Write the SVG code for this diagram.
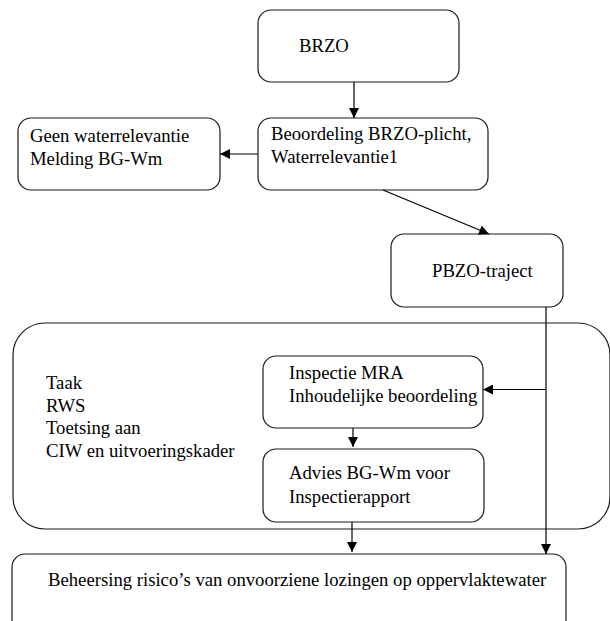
<svg xmlns="http://www.w3.org/2000/svg" width="610" height="621" viewBox="0 0 610 621">
  <style>
    .box { fill: #ffffff; stroke: #1a1a1a; stroke-width: 1.2; }
    .lbl { font-family: 'Liberation Serif', 'Times New Roman', Tinos, 'DejaVu Serif', serif; font-size: 18.7px; fill: #000000; }
    .edge { fill: none; stroke: #000000; stroke-width: 1.2; }
  </style>
  <defs>
    <marker id="arrow" viewBox="0 0 10 10" refX="10" refY="5" markerWidth="10" markerHeight="10" markerUnits="userSpaceOnUse" orient="auto">
      <path d="M0,0 L10,5 L0,10 Z" fill="#000000"/>
    </marker>
  </defs>
  <rect width="610" height="621" fill="#ffffff"/>

  <!-- container for the RWS task -->
  <g id="rws-taak">
    <rect class="box" x="13" y="323" width="597" height="206" rx="32" ry="32"/>
    <text class="lbl" x="46" y="389">Taak</text>
    <text class="lbl" x="46" y="411.5">RWS</text>
    <text class="lbl" x="46" y="434">Toetsing aan</text>
    <text class="lbl" x="46" y="456.5">CIW en uitvoeringskader</text>
  </g>

  <g id="brzo">
    <rect class="box" x="258" y="10" width="201" height="72" rx="13" ry="13"/>
    <text class="lbl" x="299" y="52">BRZO</text>
  </g>

  <g id="beoordeling">
    <rect class="box" x="258" y="118" width="230" height="72" rx="13" ry="13"/>
    <text class="lbl" x="271" y="140">Beoordeling BRZO-plicht,</text>
    <text class="lbl" x="271" y="163">Waterrelevantie1</text>
  </g>

  <g id="geen-waterrelevantie">
    <rect class="box" x="18" y="118" width="202" height="72" rx="13" ry="13"/>
    <text class="lbl" x="30" y="142">Geen waterrelevantie</text>
    <text class="lbl" x="30" y="165">Melding BG-Wm</text>
  </g>

  <g id="pbzo">
    <rect class="box" x="391" y="234" width="172" height="73" rx="13" ry="13"/>
    <text class="lbl" x="432" y="277">PBZO-traject</text>
  </g>

  <g id="inspectie">
    <rect class="box" x="263" y="356" width="220" height="72" rx="13" ry="13"/>
    <text class="lbl" x="289" y="379">Inspectie MRA</text>
    <text class="lbl" x="289" y="402">Inhoudelijke beoordeling</text>
  </g>

  <g id="advies">
    <rect class="box" x="263" y="449" width="221" height="73" rx="13" ry="13"/>
    <text class="lbl" x="289" y="479">Advies BG-Wm voor</text>
    <text class="lbl" x="289" y="503">Inspectierapport</text>
  </g>

  <g id="beheersing">
    <rect class="box" x="12" y="554" width="554" height="90" rx="13" ry="13"/>
    <text class="lbl" x="48" y="586">Beheersing risico’s van onvoorziene lozingen op oppervlaktewater</text>
  </g>

  <g id="connectors">
    <line class="edge" x1="354" y1="82" x2="354" y2="118" marker-end="url(#arrow)"/>
    <line class="edge" x1="258" y1="154" x2="220" y2="154" marker-end="url(#arrow)"/>
    <line class="edge" x1="383" y1="190" x2="489" y2="234" marker-end="url(#arrow)"/>
    <line class="edge" x1="546" y1="307" x2="546" y2="554" marker-end="url(#arrow)"/>
    <line class="edge" x1="546" y1="389.5" x2="483" y2="389.5" marker-end="url(#arrow)"/>
    <line class="edge" x1="353" y1="428" x2="353" y2="447" marker-end="url(#arrow)"/>
    <line class="edge" x1="352" y1="522" x2="352" y2="552" marker-end="url(#arrow)"/>
  </g>
</svg>
